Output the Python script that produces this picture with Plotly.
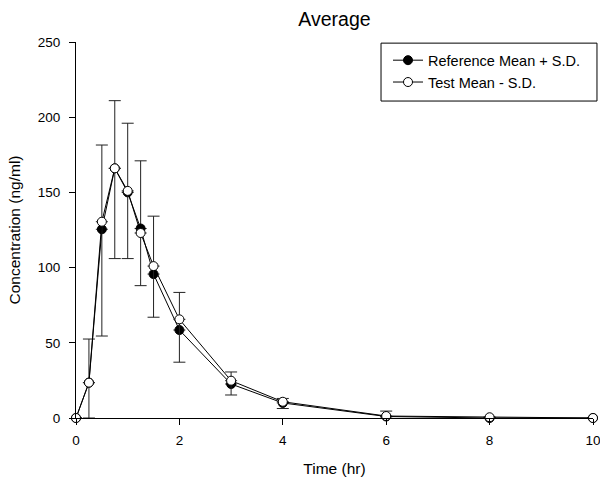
import plotly.graph_objects as go

time_hr = [0, 0.25, 0.5, 0.75, 1, 1.25, 1.5, 2, 3, 4, 6, 8, 10]
ref_mean = [0, 23.5, 125.5, 166, 150, 126, 95.7, 58.5, 22.6, 10, 1, 0, 0]
ref_sd = [0, 29, 56, 45, 46, 45, 38.5, 25, 8, 3, 3.6, 0, 0]
test_mean = [0, 23.5, 130.5, 166, 151, 123, 101, 65.6, 24.8, 10.8, 1.3, 0.5, 0]
test_sd = [0, 23.5, 76, 60, 45, 35, 34, 28.5, 9.5, 4.5, 1.3, 0, 0]
x_ticks = [0, 2, 4, 6, 8, 10]
y_ticks = [0, 50, 100, 150, 200, 250]

zeros = [0] * len(time_hr)
font = "Liberation Sans, Arial, sans-serif"

fig = go.Figure()
fig.add_trace(go.Scatter(
    x=time_hr, y=ref_mean, mode="lines+markers", name="Reference Mean + S.D.",
    line=dict(color="black", width=1),
    marker=dict(symbol="circle", size=9, color="black", line=dict(color="black", width=1)),
    error_y=dict(type="data", symmetric=False, array=ref_sd, arrayminus=zeros,
                 color="#222222", thickness=1, width=6),
    cliponaxis=False,
))
fig.add_trace(go.Scatter(
    x=time_hr, y=test_mean, mode="lines+markers", name="Test Mean - S.D.",
    line=dict(color="black", width=1),
    marker=dict(symbol="circle", size=9, color="white", line=dict(color="black", width=1)),
    error_y=dict(type="data", symmetric=False, array=zeros, arrayminus=test_sd,
                 color="#222222", thickness=1, width=6),
    cliponaxis=False,
))

# legend frame (drawn as a shape so it can have wider padding)
fig.add_shape(type="rect", xref="paper", yref="paper",
              x0=0.590, x1=1.0077, y0=0.843, y1=0.997,
              line=dict(color="black", width=1), fillcolor="white", layer="below")

fig.update_layout(
    width=600, height=480,
    paper_bgcolor="white", plot_bgcolor="white",
    margin=dict(l=76, r=7, t=42, b=62),
    font=dict(family=font, size=13.5, color="black"),
    title=dict(text="Average", x=0.5, xref="paper", y=1 - 19 / 480, yref="container",
               xanchor="center", yanchor="middle", font=dict(size=19.5, family=font)),
    showlegend=True,
    legend=dict(x=0.6035, y=0.994, xanchor="left", yanchor="top",
                borderwidth=0, bgcolor="rgba(0,0,0,0)",
                font=dict(size=14.5, family=font), tracegroupgap=0),
    xaxis=dict(range=[0, 10], tickvals=x_ticks, showgrid=False, zeroline=False,
               showline=True, linecolor="black", linewidth=1, ticks="outside", ticklen=6,
               tickcolor="black", ticklabelstandoff=4, automargin=False,
               ticklabeloverflow="allow",
               title=dict(text="Time (hr)", font=dict(size=15.5), standoff=15)),
    yaxis=dict(range=[0, 250], tickvals=y_ticks, showgrid=False, zeroline=False,
               showline=True, linecolor="black", linewidth=1, ticks="outside", ticklen=6,
               tickcolor="black", ticklabelstandoff=6, automargin=False,
               ticklabeloverflow="allow",
               title=dict(text="Concentration (ng/ml)", font=dict(size=15.5), standoff=13)),
)

fig.write_html(
    "out.html",
    config={"displayModeBar": False},
    post_script="document.body.style.margin='0';document.body.style.overflow='hidden';",
)
